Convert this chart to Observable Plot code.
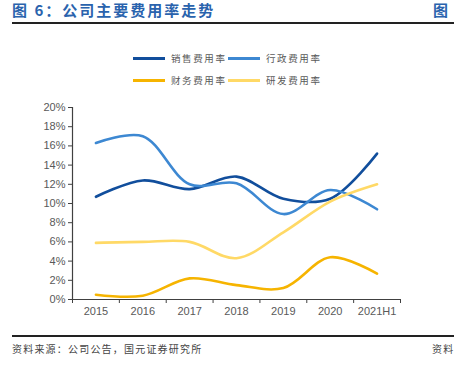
<!DOCTYPE html>
<html><head><meta charset="utf-8">
<script src="https://cdn.jsdelivr.net/npm/d3@7"></script>
<script src="https://cdn.jsdelivr.net/npm/@observablehq/plot@0.6"></script>
<style>
body{margin:0;background:#fff;}
#wrap{position:relative;width:454px;height:370px;overflow:hidden;font-family:"Noto Sans CJK SC",sans-serif;}
#wrap div{white-space:nowrap;}
#title{position:absolute;left:12px;top:0px;font-size:15px;font-weight:bold;color:#2a63ad;letter-spacing:2px;line-height:20px;}
#title2{position:absolute;left:433px;top:0px;font-size:15px;font-weight:bold;color:#2a63ad;line-height:20px;}
#hr1{position:absolute;left:12px;top:22px;width:442px;height:2px;background:#222;}
#hr2{position:absolute;left:12px;top:335px;width:442px;height:2px;background:#222;}
#src{position:absolute;left:12px;top:342px;font-size:10px;color:#444;letter-spacing:1.2px;line-height:14px;}
#src2{position:absolute;left:432px;top:342px;font-size:10px;color:#444;letter-spacing:1.2px;line-height:14px;}
#chart{position:absolute;left:0;top:0;}
.lg{position:absolute;display:flex;align-items:center;font-size:9.5px;color:#595959;letter-spacing:1.6px;}
.lg span.sw{display:inline-block;width:32px;height:3px;margin-right:6px;}
</style></head>
<body><div id="wrap">
<div id="chart"></div>
<div id="title">图 6：公司主要费用率走势</div>
<div id="title2">图</div>
<div id="hr1"></div>
<div id="legend"></div>
<div id="hr2"></div>
<div id="src">资料来源：公司公告，国元证券研究所</div>
<div id="src2">资料</div>
</div>
<script>
const years = ["2015","2016","2017","2018","2019","2020","2021H1"];
const seriesNames = ["销售费用率","行政费用率","财务费用率","研发费用率"];
const sales = [10.7, 12.4, 11.5, 12.8, 10.5, 10.5, 15.2];
const admin = [16.3, 17.0, 12.0, 12.1, 8.9, 11.4, 9.4];
const finance = [0.5, 0.4, 2.2, 1.5, 1.2, 4.4, 2.7];
const rnd = [5.9, 6.0, 6.0, 4.3, 7.0, 10.2, 12.0];
const colors = ["#114e9c", "#3d88d2", "#f6b400", "#ffd966"];
const yTicks = [0,2,4,6,8,10,12,14,16,18,20];

const allSeries = [sales, admin, finance, rnd];
const data = [];
allSeries.forEach((vals, s) => vals.forEach((v, i) => data.push({i, v, s: seriesNames[s]})));

const plot = Plot.plot({
  width: 454, height: 370,
  marginLeft: 72, marginRight: 54, marginTop: 107, marginBottom: 71,
  style: {fontFamily: "'Liberation Sans', Arial, sans-serif", fontSize: "11px", color: "#595959", background: "transparent"},
  x: {domain: [-0.5, 6.5], axis: null},
  y: {domain: [0, 20], axis: null},
  color: {domain: seriesNames, range: colors},
  marks: [
    Plot.axisY({ticks: yTicks, tickSize: 4, tickFormat: d => d + "%", tickPadding: 3, stroke: "#404040", fill: "#595959", label: null}),
    Plot.ruleX([-0.5], {stroke: "#404040", strokeWidth: 1.2}),
    Plot.ruleY([0], {stroke: "#404040", strokeWidth: 1.2}),
    Plot.axisX({ticks: d3.range(-0.5, 7, 1), tickSize: 4, tickFormat: () => "", stroke: "#404040", label: null}),
    Plot.axisX({ticks: d3.range(0, 7), tickSize: 0, tickPadding: 8, tickFormat: i => years[i], fill: "#595959", label: null}),
    Plot.line(data, {x: "i", y: "v", z: "s", stroke: "s", strokeWidth: 2.6, curve: "catmull-rom"})
  ]
});
document.getElementById("chart").appendChild(plot);

const legendPos = [[133, 58], [228, 58], [133, 80], [228, 80]];
const lg = document.getElementById("legend");
seriesNames.forEach((n, k) => {
  const d = document.createElement("div");
  d.className = "lg";
  d.style.left = legendPos[k][0] + "px";
  d.style.top = (legendPos[k][1] - 7) + "px";
  d.innerHTML = `<span class="sw" style="background:${colors[k]}"></span>${n}`;
  lg.appendChild(d);
});
</script>
</body></html>
